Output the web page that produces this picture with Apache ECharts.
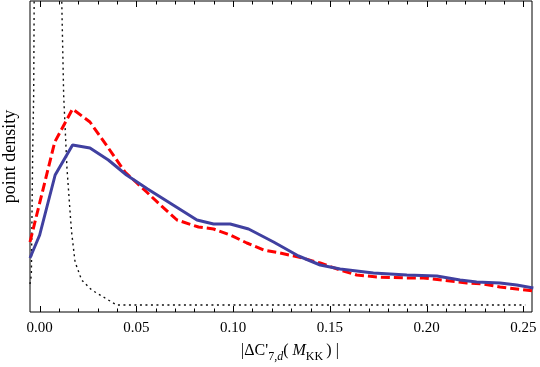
<!DOCTYPE html>
<html>
<head>
<meta charset="utf-8">
<script src="https://cdn.jsdelivr.net/npm/echarts@6/dist/echarts.min.js"></script>
<style>
  html, body { margin: 0; padding: 0; background: #fff; }
  #chart { width: 540px; height: 367px; }
</style>
</head>
<body>
<div id="chart"></div>
<script>
// tick labels of the x axis
const majorTicks = [0, 0.05, 0.10, 0.15, 0.20, 0.25]
const allTicks = [0, 0.01, 0.02, 0.03, 0.04, 0.05, 0.06, 0.07, 0.08, 0.09, 0.10, 0.11, 0.12, 0.13, 0.14,
                  0.15, 0.16, 0.17, 0.18, 0.19, 0.20, 0.21, 0.22, 0.23, 0.24, 0.25]

// solid blue curve
const blueX = [-0.005, 0.0, 0.0080, 0.0170, 0.0260, 0.0355, 0.0449, 0.0558, 0.0624, 0.0813, 0.0899,
               0.0985, 0.1080, 0.1209, 0.1338, 0.1450, 0.1553, 0.1725, 0.1898, 0.2053, 0.2173,
               0.2259, 0.2380, 0.2466, 0.2552]
const blueY = [54, 77, 137, 167, 164, 152, 137, 123, 115, 92, 88, 88, 83, 70, 56, 47, 43, 39, 37, 36,
               32, 30, 29, 27, 24]

// dashed red curve
const redX = [-0.005, 0.0078, 0.0170, 0.0260, 0.0355, 0.0441, 0.0553, 0.0624, 0.0710, 0.0821, 0.0899,
              0.0985, 0.1071, 0.1157, 0.1243, 0.1338, 0.1450, 0.1553, 0.1639, 0.1743, 0.1898, 0.1984,
              0.2122, 0.2208, 0.2294, 0.2380, 0.2466, 0.2552]
const redY = [70, 170, 203, 190, 164, 140, 120, 107, 92, 85, 83, 77, 69, 62, 59, 55, 49, 42, 37, 35,
              34, 34, 31, 29, 28, 25, 23, 21]

// dotted black curve (peak goes far above the frame)
const dotX = [-0.005, -0.0043, -0.0036, -0.0031, -0.0028, -0.0024, 0.0040, 0.0105, 0.0114, 0.0124,
              0.0141, 0.0159, 0.0165, 0.0183, 0.0217, 0.0269, 0.0338, 0.0398, 0.2510]
const dotY = [28, 37, 162, 217, 330, 600, 1500, 600, 312, 217, 144, 95, 80, 50, 32, 22, 14, 7, 7]

const xMin = -0.005, xMax = 0.2545
const yMax = 311
const serif = '"Liberation Serif", "DejaVu Serif", serif'

function pairs(xs, ys) {
    return xs.map((x, i) => [x, ys[i]])
}

// frame ticks pointing inward, bottom and top (Mathematica style)
function renderTick(params, api) {
    const v = api.value(0)
    const len = api.value(1) ? 6 : 3.5
    const b = api.coord([v, 0])
    const t = api.coord([v, yMax])
    const x = Math.round(b[0]) + 0.5
    const st = { stroke: '#000', lineWidth: 1 }
    return {
        type: 'group',
        children: [
            { type: 'line', shape: { x1: x, y1: b[1], x2: x, y2: b[1] - len }, style: st },
            { type: 'line', shape: { x1: x, y1: t[1], x2: x, y2: t[1] + len }, style: st }
        ]
    }
}

const chart = echarts.init(document.getElementById('chart'))
chart.setOption({
    animation: false,
    grid: {
        left: 30, right: 8, top: 1, bottom: 55,
        containLabel: false, outerBoundsMode: 'none',
        show: true, borderColor: '#000', borderWidth: 1, backgroundColor: 'transparent'
    },
    xAxis: {
        type: 'value', min: xMin, max: xMax,
        axisLine: { show: false, onZero: false },
        axisTick: { show: false },
        axisLabel: {
            show: true, customValues: majorTicks, margin: 9,
            formatter: v => v.toFixed(2),
            color: '#000', fontSize: 15, fontFamily: serif
        },
        splitLine: { show: false },
        name: '{n||ΔC\'}{s|7,}{si|d}{n|( }{i|M}{s|KK}{n|\u2009) |}',
        nameLocation: 'middle',
        nameGap: 31,
        nameTextStyle: {
            padding: [0, 0, 0, 18],
            rich: {
                n: { fontSize: 16, fontFamily: serif, color: '#000', lineHeight: 18, verticalAlign: 'top' },
                i: { fontSize: 16, fontFamily: serif, fontStyle: 'italic', color: '#000', lineHeight: 18, verticalAlign: 'top' },
                s: { fontSize: 12, fontFamily: serif, color: '#000', lineHeight: 12, padding: [8, 0, 0, 0], verticalAlign: 'top' },
                si: { fontSize: 12, fontFamily: serif, fontStyle: 'italic', color: '#000', lineHeight: 12, padding: [8, 0, 0, 0], verticalAlign: 'top' }
            }
        }
    },
    yAxis: {
        type: 'value', min: 0, max: yMax,
        name: 'point density', nameLocation: 'middle', nameGap: 11,
        nameTextStyle: { fontSize: 18, fontFamily: serif, color: '#000' },
        axisLine: { show: false, onZero: false },
        axisTick: { show: false }, axisLabel: { show: false }, splitLine: { show: false }
    },
    series: [
        {
            type: 'line', data: pairs(dotX, dotY), symbol: 'none', clip: true,
            lineStyle: { color: '#111', width: 1.4, type: [2, 3.5] }
        },
        {
            type: 'line', data: pairs(redX, redY), symbol: 'none', clip: true,
            lineStyle: { color: '#ff0000', width: 3, type: [9, 4] }
        },
        {
            type: 'line', data: pairs(blueX, blueY), symbol: 'none', clip: true,
            lineStyle: { color: '#4040a0', width: 3 }
        },
        {
            type: 'custom', silent: true, renderItem: renderTick,
            data: allTicks.map(v => [v, majorTicks.includes(v) ? 1 : 0])
        }
    ]
})
</script>
</body>
</html>
